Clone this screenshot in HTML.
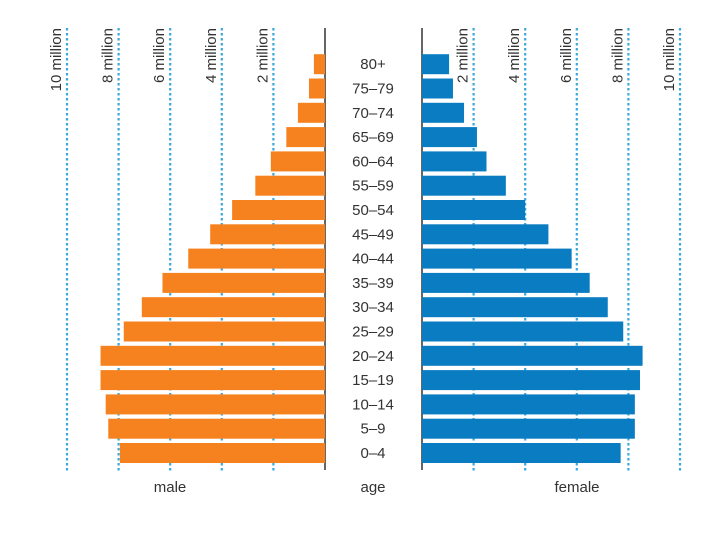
<!DOCTYPE html>
<html><head><meta charset="utf-8"><style>
body{margin:0;background:#fff;width:720px;height:540px;overflow:hidden}
svg{display:block;font-family:"Liberation Sans",sans-serif}
</style></head><body>
<svg id="chart" width="720" height="540" viewBox="0 0 720 540">
<g id="grid"></g><g id="bars"></g><g id="labels"></g>
</svg>
<script>
const ageGroups=["0-4","5-9","10-14","15-19","20-24","25-29","30-34","35-39","40-44","45-49","50-54","55-59","60-64","65-69","70-74","75-79","80+"];
const maleValues=[7.95,8.4,8.5,8.7,8.7,7.8,7.1,6.3,5.3,4.45,3.6,2.7,2.1,1.5,1.05,0.62,0.43];
const femaleValues=[7.7,8.25,8.25,8.45,8.55,7.8,7.2,6.5,5.8,4.9,4.0,3.25,2.5,2.13,1.63,1.2,1.05];
const tickValues=[2,4,6,8,10];
const tickLabels=["2 million","4 million","6 million","8 million","10 million"];
const NS="http://www.w3.org/2000/svg";
const pxPerM=25.8, maleZero=325, femaleZero=422;
const xMale=v=>maleZero-v*pxPerM, xFemale=v=>femaleZero+v*pxPerM;
const yRow=i=>453-i*24.3;
const barH=20;
function mk(tag,attrs,parent){const e=document.createElementNS(NS,tag);for(const k in attrs)e.setAttribute(k,attrs[k]);parent.appendChild(e);return e;}
const grid=document.getElementById('grid'),bars=document.getElementById('bars'),labels=document.getElementById('labels');
tickValues.forEach((t,i)=>{
  [xMale(t),xFemale(t)].forEach((x,side)=>{
    const l=mk('line',{x1:x,x2:x,y1:28,y2:472,stroke:'#3aa8dc','stroke-width':2.2,'stroke-dasharray':'2.5,2.5'},grid);
    
    
    const tx=mk('text',{x:0,y:0,transform:`translate(${x-6},28) rotate(-90)`,'text-anchor':'end','font-size':15,fill:'#333'},labels);
    tx.textContent=tickLabels[i];
    
    
  });
});
ageGroups.forEach((g,i)=>{
  const y=yRow(i)-barH/2;
  const m=mk('rect',{x:xMale(maleValues[i]),y:y,width:maleValues[i]*pxPerM,height:barH,fill:'#f5821f'},bars);
  
  
  const f=mk('rect',{x:femaleZero,y:y,width:femaleValues[i]*pxPerM,height:barH,fill:'#0a7cc1'},bars);
  
  
  const t=mk('text',{x:373,y:yRow(i)+5,'text-anchor':'middle','font-size':15,fill:'#333'},labels);
  t.textContent=g.replace('-','–');
  
  
});
const a1=mk('line',{x1:maleZero,x2:maleZero,y1:28,y2:470,stroke:'#333','stroke-width':1.5},grid);


const a2=mk('line',{x1:femaleZero,x2:femaleZero,y1:28,y2:470,stroke:'#333','stroke-width':1.5},grid);


[["male",170,"male-axis-title"],["age",373,"age-axis-title"],["female",577,"female-axis-title"]].forEach(([s,x,n])=>{
  const t=mk('text',{x:x,y:492,'text-anchor':'middle','font-size':15,fill:'#333'},labels);
  t.textContent=s;
  
  
});
</script>
</body></html>
